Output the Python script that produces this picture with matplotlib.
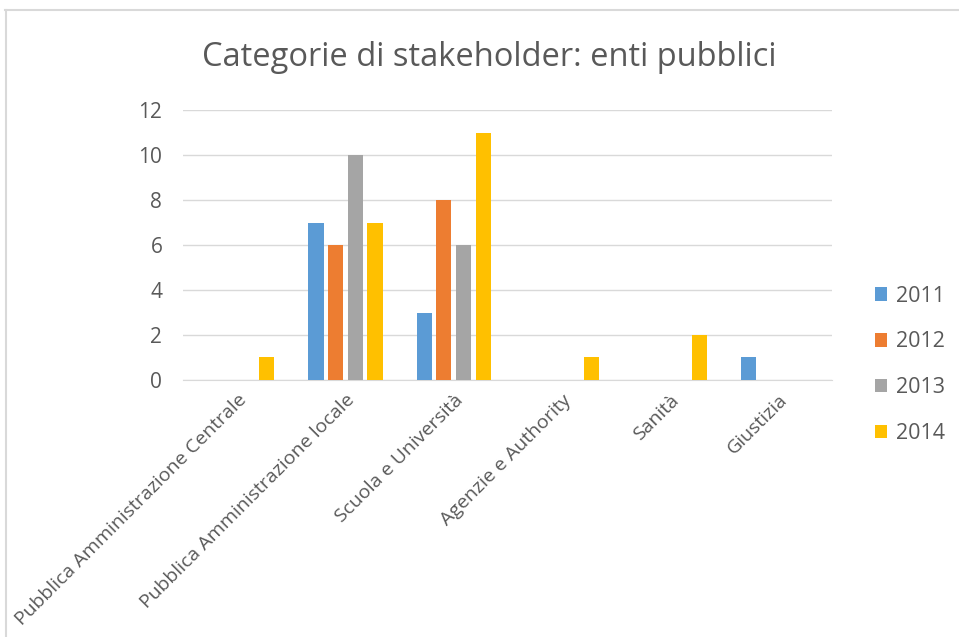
import matplotlib.pyplot as plt
import numpy as np
from matplotlib.lines import Line2D

categories = ['Pubblica Amministrazione Centrale', 'Pubblica Amministrazione locale',
              'Scuola e Università', 'Agenzie e Authority', 'Sanità', 'Giustizia']
years = ['2011', '2012', '2013', '2014']
v2011 = [0, 7, 3, 0, 0, 1]
v2012 = [0, 6, 8, 0, 0, 0]
v2013 = [0, 10, 6, 0, 0, 0]
v2014 = [1, 7, 11, 1, 2, 0]
series = [v2011, v2012, v2013, v2014]
colors = ['#5B9BD5', '#ED7D31', '#A5A5A5', '#FFC000']

plt.rcParams['font.family'] = ['Open Sans', 'DejaVu Sans']
txt = '#595959'

fig = plt.figure(figsize=(9.59, 6.37), dpi=100)
ax = fig.add_axes([0.191, 0.4035, 0.677, 0.4235])

x = np.arange(len(categories))
bw = 0.14
step = 0.182
for i, (vals, c, yr) in enumerate(zip(series, colors, years)):
    ax.bar(x + (i - 1.5) * step, vals, width=bw, color=c, label=yr, zorder=3)

ax.set_xlim(-0.5, len(categories) - 0.5)
ax.set_ylim(0, 12)
ax.set_yticks(range(0, 13, 2))
ax.yaxis.grid(True, color='#d9d9d9', linewidth=1, zorder=0)
for s in ['top', 'right', 'left']:
    ax.spines[s].set_visible(False)
ax.spines['bottom'].set_color('#d9d9d9')
ax.tick_params(axis='both', length=0, colors=txt)
ax.tick_params(axis='y', pad=15, labelsize=15)
ax.tick_params(axis='x', pad=8)
ax.set_xticks(x)
ax.set_xticklabels(categories, rotation=45, ha='right', rotation_mode='anchor',
                   fontsize=14, color=txt)

fig.text(0.51, 0.91, 'Categorie di stakeholder: enti pubblici', ha='center', va='center',
         fontsize=23.5, color=txt)

ax.legend(loc='center left', bbox_to_anchor=(1.035, 0.056), frameon=False, fontsize=15.5,
          labelcolor=txt, handlelength=0.6, handleheight=0.6, handletextpad=0.4,
          labelspacing=1.15)

# outer chart frame (top and left edges)
fig.add_artist(Line2D([0.005, 1.0], [0.984, 0.984], color='#d9d9d9', linewidth=1.5,
                      transform=fig.transFigure))
fig.add_artist(Line2D([0.006, 0.006], [0.0, 0.984], color='#d9d9d9', linewidth=1.5,
                      transform=fig.transFigure))

fig.savefig('out.png', dpi=100)
